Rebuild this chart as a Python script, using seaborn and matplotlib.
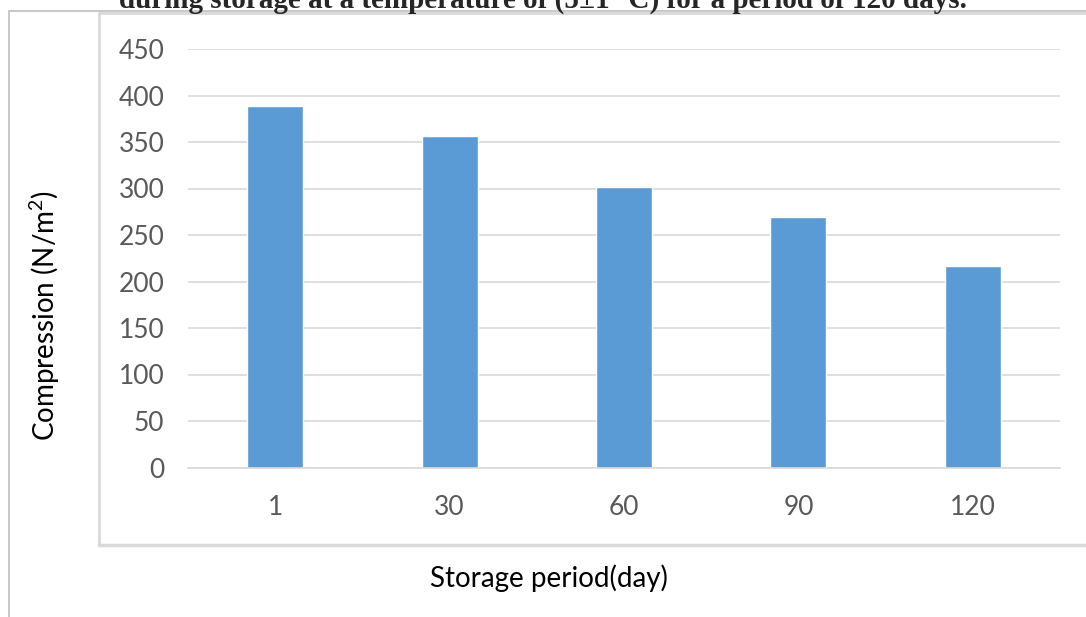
import matplotlib
matplotlib.use("Agg")
import matplotlib.pyplot as plt
from matplotlib.lines import Line2D
import seaborn as sns
import pandas as pd

# Compression of samples over the storage period
days = ["1", "30", "60", "90", "120"]
compression = [389, 356, 302, 269, 217]
y_ticks = [0, 50, 100, 150, 200, 250, 300, 350, 400, 450]

title = "during storage at a temperature of (5\u00b11 \u00b0C) for a period of 120 days."
x_label = "Storage period(day)"
y_label = "Compression (N/m$^2$)"

sns.set_style("white")
plt.rcParams["font.family"] = ["Lato", "DejaVu Sans"]
plt.rcParams["mathtext.fontset"] = "custom"
plt.rcParams["mathtext.rm"] = "Lato"

W, H = 1086, 617
fig = plt.figure(figsize=(W / 100, H / 100), dpi=100)

def fx(px):
    return px / W

def fy(py):
    return 1 - py / H

ax = fig.add_axes([fx(188), fy(467.5), fx(1060) - fx(188), fy(49) - fy(467.5)])

df = pd.DataFrame({"day": days, "value": compression})
sns.barplot(data=df, x="day", y="value", order=days, color="#5B9BD5",
            saturation=1, width=0.32, ax=ax)

ax.set_xlim(-0.5, len(days) - 0.5)
ax.set_ylim(0, 450)
ax.set_yticks(y_ticks)
ax.set_yticklabels([str(t) for t in y_ticks])
ax.yaxis.grid(True, color="#D9D9D9", linewidth=1.2)
ax.set_axisbelow(True)
for s in ["left", "right", "top"]:
    ax.spines[s].set_visible(False)
ax.spines["bottom"].set_color("#D9D9D9")
ax.spines["bottom"].set_linewidth(1.2)
ax.tick_params(axis="both", length=0, labelsize=19, labelcolor="#595959")
ax.tick_params(axis="y", pad=17)
ax.tick_params(axis="x", pad=20)
ax.set_xlabel("")
ax.set_ylabel("")

# Axis titles
fig.text(fx(45), fy(316), y_label, rotation=90, ha="center", va="center",
         fontsize=20, color="black")
fig.text(fx(549), fy(578), x_label, ha="center", va="center",
         fontsize=20, color="black")

# Caption line, running off the top edge
fig.text(fx(543), fy(8), title, ha="center", va="baseline",
         fontsize=21, fontweight="bold", family=["Liberation Serif", "DejaVu Serif"])

# Chart frames
outer = "#BFBFBF"
inner = "#D9D9D9"
fig.add_artist(Line2D([fx(8.5), fx(8.5)], [0, fy(11)], color=outer, lw=1.2))
fig.add_artist(Line2D([fx(8.5), 1], [fy(11), fy(11)], color=outer, lw=1.2))
fig.add_artist(Line2D([fx(98.5), fx(98.5)], [fy(545), fy(13)], color=inner, lw=2))
fig.add_artist(Line2D([fx(98.5), 1], [fy(13), fy(13)], color=inner, lw=2))
fig.add_artist(Line2D([fx(98.5), 1], [fy(545), fy(545)], color=inner, lw=2.5))

fig.savefig("out.png", dpi=100, facecolor="white")
